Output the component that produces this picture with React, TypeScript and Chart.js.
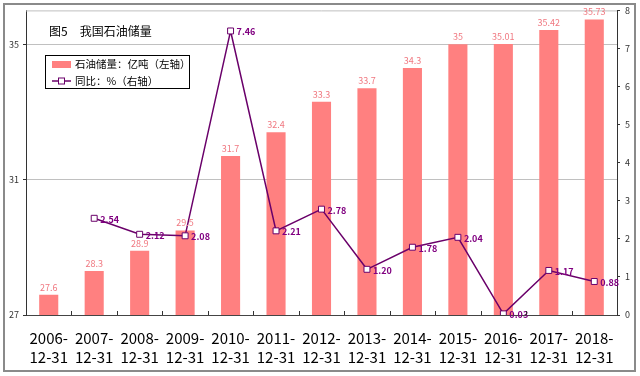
import { useEffect, useRef } from 'react';
import { Chart, registerables } from 'chart.js';

Chart.register(...registerables);

const categories = ['2006-12-31', '2007-12-31', '2008-12-31', '2009-12-31', '2010-12-31', '2011-12-31', '2012-12-31', '2013-12-31', '2014-12-31', '2015-12-31', '2016-12-31', '2017-12-31', '2018-12-31'];
const reserves = [27.6, 28.3, 28.9, 29.5, 31.7, 32.4, 33.3, 33.7, 34.3, 35, 35.01, 35.42, 35.73];
const reserveLabels = ['27.6', '28.3', '28.9', '29.5', '31.7', '32.4', '33.3', '33.7', '34.3', '35', '35.01', '35.42', '35.73'];
const growth = [null, 2.54, 2.12, 2.08, 7.46, 2.21, 2.78, 1.2, 1.78, 2.04, 0.03, 1.17, 0.88];
const leftTicks = [27, 31, 35];
const rightTicks = [0, 1, 2, 3, 4, 5, 6, 7, 8];
const titleText = '图5　我国石油储量';
const legendBarText = '石油储量：亿吨（左轴）';
const legendLineText = '同比：%（右轴）';

const FONT = '"Noto Sans CJK SC", "Noto Sans", sans-serif';
const BAR_COLOR = '#FF8080';
const BAR_LABEL = '#F07880';
const LINE_COLOR = '#6A006A';
const LINE_LABEL = '#800080';

const decor = {
  id: 'decor',
  beforeDraw(chart: any) {
    const { ctx, width, height } = chart;
    ctx.save();
    ctx.fillStyle = '#ffffff';
    ctx.fillRect(0, 0, width, height);
    ctx.strokeStyle = '#8a8a8a';
    ctx.lineWidth = 2;
    ctx.strokeRect(4, 4, width - 9, height - 9);
    ctx.restore();
  },
  beforeDatasetsDraw(chart: any) {
    const { ctx, chartArea } = chart;
    ctx.save();
    ctx.strokeStyle = '#c0c0c0';
    ctx.lineWidth = 1;
    ctx.beginPath();
    ctx.moveTo(chartArea.left, chartArea.top + 0.5);
    ctx.lineTo(chartArea.right, chartArea.top + 0.5);
    ctx.stroke();
    ctx.restore();
  },
  afterDatasetsDraw(chart: any) {
    const { ctx } = chart;
    ctx.save();
    const barMeta = chart.getDatasetMeta(0);
    ctx.font = `9px ${FONT}`;
    ctx.fillStyle = BAR_LABEL;
    ctx.textAlign = 'center';
    ctx.textBaseline = 'bottom';
    barMeta.data.forEach((el: any, i: number) => {
      ctx.fillText(reserveLabels[i], el.x, el.y - 3);
    });
    const lineMeta = chart.getDatasetMeta(1);
    ctx.font = `bold 9px ${FONT}`;
    ctx.fillStyle = LINE_LABEL;
    ctx.textAlign = 'left';
    ctx.textBaseline = 'middle';
    lineMeta.data.forEach((el: any, i: number) => {
      const v = growth[i];
      if (v === null || v === undefined) return;
      ctx.fillText(v.toFixed(2), el.x + 6, el.y + 1);
    });
    ctx.restore();
  },
  afterDraw(chart: any) {
    const { ctx, chartArea } = chart;
    const xs = chart.scales.x;
    ctx.save();
    ctx.strokeStyle = '#333';
    ctx.lineWidth = 1;
    const n = categories.length;
    const step = (chartArea.right - chartArea.left) / n;
    for (let i = 1; i < n; i++) {
      const x = Math.round(xs.getPixelForValue(i) - step / 2) + 0.5;
      ctx.beginPath();
      ctx.moveTo(x, chartArea.bottom);
      ctx.lineTo(x, chartArea.bottom - 4);
      ctx.stroke();
    }
    ctx.fillStyle = '#000';
    ctx.font = `12px ${FONT}`;
    ctx.textAlign = 'left';
    ctx.textBaseline = 'middle';
    ctx.fillText(titleText, 49, 31);
    ctx.fillStyle = '#fff';
    ctx.fillRect(45, 55, 145, 34);
    ctx.strokeStyle = '#000';
    ctx.lineWidth = 1;
    ctx.strokeRect(45.5, 55.5, 144, 33);
    ctx.fillStyle = BAR_COLOR;
    ctx.fillRect(52, 61, 19, 7);
    ctx.strokeStyle = LINE_COLOR;
    ctx.lineWidth = 1.5;
    ctx.beginPath();
    ctx.moveTo(52, 81);
    ctx.lineTo(71, 81);
    ctx.stroke();
    ctx.fillStyle = '#fff';
    ctx.fillRect(58.5, 78, 6, 6);
    ctx.lineWidth = 1;
    ctx.strokeRect(58.5, 78, 6, 6);
    ctx.fillStyle = '#000';
    ctx.font = `10.5px ${FONT}`;
    ctx.fillText(legendBarText, 75, 64.5);
    ctx.fillText(legendLineText, 75, 81.5);
    ctx.restore();
  },
};

export default function App() {
  const ref = useRef<HTMLCanvasElement | null>(null);
  useEffect(() => {
    if (!ref.current) return;
    const chart = new Chart(ref.current, {
      type: 'bar',
      data: {
        labels: categories,
        datasets: [
          {
            type: 'bar',
            label: legendBarText,
            data: reserves,
            backgroundColor: BAR_COLOR,
            borderWidth: 0,
            barPercentage: 0.42,
            categoryPercentage: 1,
            yAxisID: 'y',
            order: 2,
          },
          {
            type: 'line',
            label: legendLineText,
            data: growth,
            borderColor: LINE_COLOR,
            borderWidth: 1.5,
            backgroundColor: '#fff',
            pointStyle: 'rect',
            pointRadius: 4.2,
            pointBorderColor: LINE_COLOR,
            pointBackgroundColor: '#fff',
            pointBorderWidth: 1,
            tension: 0,
            spanGaps: false,
            yAxisID: 'y1',
            order: 1,
          } as any,
        ],
      },
      options: {
        responsive: false,
        animation: false,
        layout: { padding: { top: 10, left: 0, right: 0, bottom: 0 } },
        plugins: { legend: { display: false }, tooltip: { enabled: false }, title: { display: false } },
        scales: {
          x: {
            grid: { display: false },
            border: { display: true, color: '#444', width: 1 },
            ticks: {
              autoSkip: false,
              maxRotation: 0,
              minRotation: 0,
              padding: 6,
              color: '#000',
              font: { family: FONT, size: 15, lineHeight: 1.25 },
              callback: (_v: any, i: number) => {
                const s = categories[i];
                return [s.slice(0, 5), s.slice(5)];
              },
            },
            afterFit: (s: any) => { s.height = 61; },
          },
          y: {
            position: 'left',
            min: 27,
            max: 36,
            afterBuildTicks: (s: any) => { s.ticks = leftTicks.map((v) => ({ value: v })); },
            grid: { color: '#c0c0c0', tickColor: '#333', tickLength: 3 },
            border: { display: true, color: '#333', width: 1 },
            ticks: { color: '#333', padding: 4, font: { family: FONT, size: 9 } },
            afterFit: (s: any) => { s.width = 26; },
          },
          y1: {
            position: 'right',
            min: 0,
            max: 8,
            afterBuildTicks: (s: any) => { s.ticks = rightTicks.map((v) => ({ value: v })); },
            grid: { drawOnChartArea: false, tickColor: '#333', tickLength: 3 },
            border: { display: true, color: '#333', width: 1 },
            ticks: { color: '#333', padding: 5, font: { family: FONT, size: 9 } },
            afterFit: (s: any) => { s.width = 23; },
          },
        },
      },
      plugins: [decor],
    });
    return () => chart.destroy();
  }, []);
  return (
    <div style={{ position: 'fixed', left: 0, top: 0, width: 640, height: 376 }}>
      <canvas ref={ref} width={640} height={376} style={{ width: 640, height: 376 }} />
    </div>
  );
}
